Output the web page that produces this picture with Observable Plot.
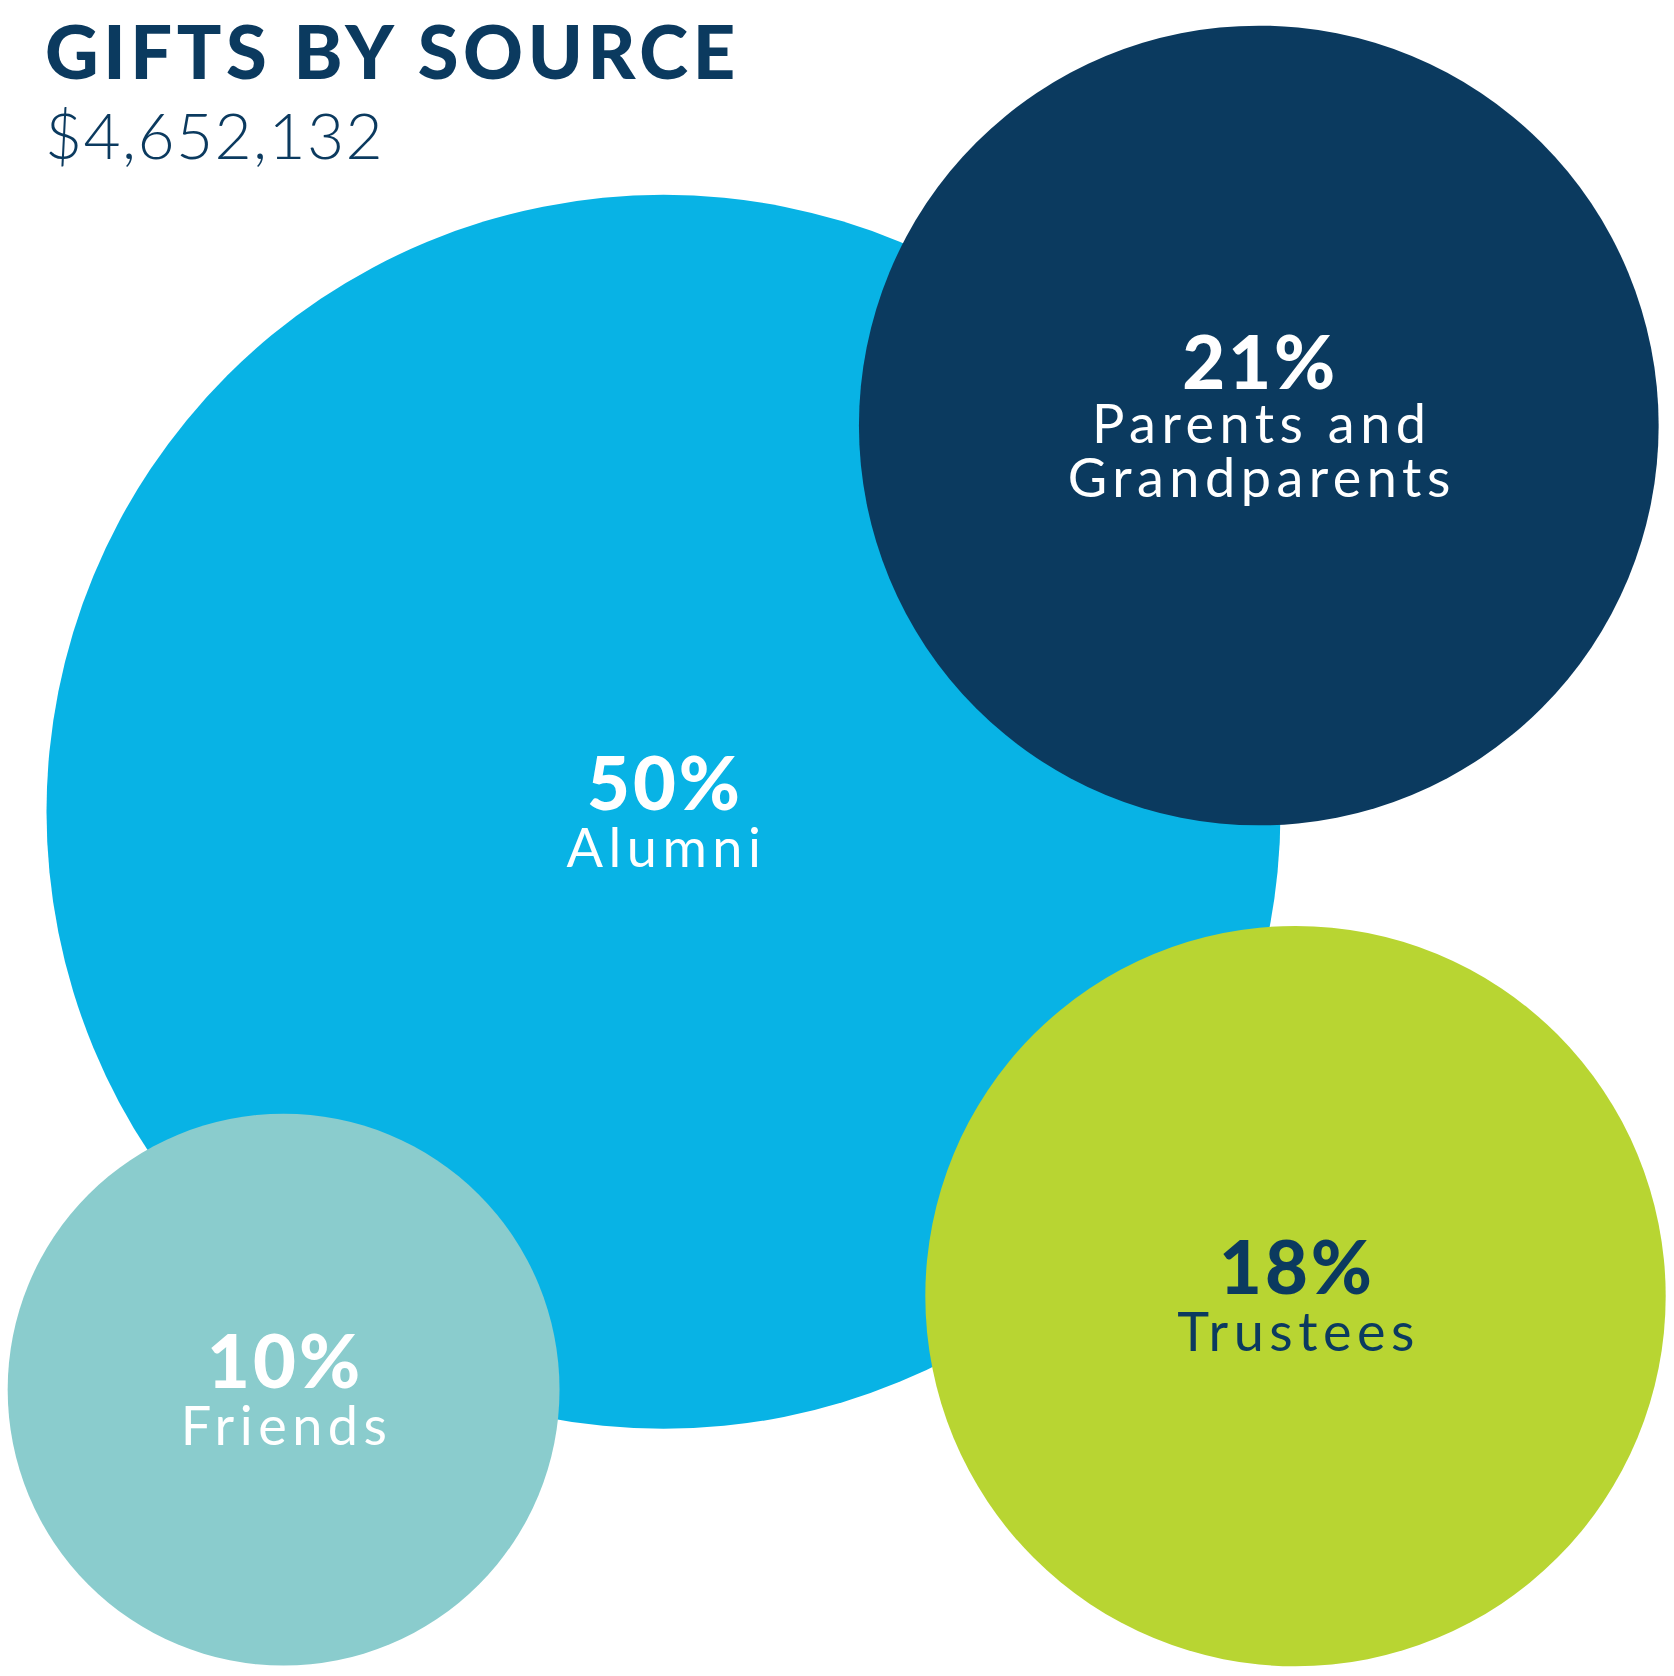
<!DOCTYPE html>
<html><head><meta charset="utf-8">
<script src="https://cdn.jsdelivr.net/npm/d3@7"></script>
<script src="https://cdn.jsdelivr.net/npm/@observablehq/plot@0.6"></script>
<style>
html,body{margin:0;padding:0;background:#fff;}
#wrap{position:relative;width:1674px;height:1676px;overflow:hidden;}
#title{position:absolute;left:45px;top:14px;font:900 74px/74px Lato;color:#0b3a5f;white-space:nowrap;letter-spacing:4.6px;}
#subtitle{position:absolute;left:45px;top:103px;font:300 64px/64px Lato;color:#0b3a5f;white-space:nowrap;letter-spacing:1.4px;}
g[font-weight="400"] text{letter-spacing:5.5px;}
g[font-weight="900"] text{letter-spacing:3px;}
</style></head><body>
<div id="wrap"><div id="chart"></div><div id="title"></div><div id="subtitle"></div></div>
<script>
// data
const titleText = "GIFTS BY SOURCE";
const totalText = "$4,652,132";
const categories = ["Alumni", "Parents and\nGrandparents", "Trustees", "Friends"];
const shares = [50, 21, 18, 10];
// hand-arranged layout (chart units) and styling
const centerX = [663, 1258.3, 1295, 283.1];
const centerY = [811.3, 425, 1295.6, 1389.1];
const fills = ["#08b3e5", "#0b3a5f", "#b8d532", "#8acccd"];
const inks = ["#ffffff", "#ffffff", "#0b3a5f", "#ffffff"];

document.getElementById("title").textContent = titleText;
document.getElementById("subtitle").textContent = totalText;

const data = categories.map((c, i) => ({
  category: c, share: shares[i], cx: centerX[i], cy: centerY[i],
  color: fills[i], ink: inks[i], lines: c.split("\n").length
}));

const labelMarks = data.flatMap(d => {
  const k = d.lines - 1;
  return [
    Plot.text([d], {x: "cx", y: "cy", text: e => e.share + "%", fill: "ink",
      fontFamily: "Lato", fontWeight: 900, fontSize: 74, lineAnchor: "bottom", dy: -2 - 35 * k, dx: 1.5}),
    Plot.text([d], {x: "cx", y: "cy", text: "category", fill: "ink",
      fontFamily: "Lato", fontWeight: 400, fontSize: 54, lineHeight: 1, lineAnchor: "bottom", dy: 55 + 16 * k, dx: 3})
  ];
});

const chart = Plot.plot({
  width: 1674, height: 1676, margin: 0,
  x: {domain: [0, 1674], range: [0, 1674], axis: null},
  y: {domain: [0, 1676], range: [0, 1676], axis: null},
  r: {type: "sqrt", domain: [0, 50], range: [0, 617]},
  marks: [
    Plot.dot(data, {x: "cx", y: "cy", r: "share", fill: "color"}),
    ...labelMarks
  ]
});
document.getElementById("chart").appendChild(chart);
</script>
</body></html>
